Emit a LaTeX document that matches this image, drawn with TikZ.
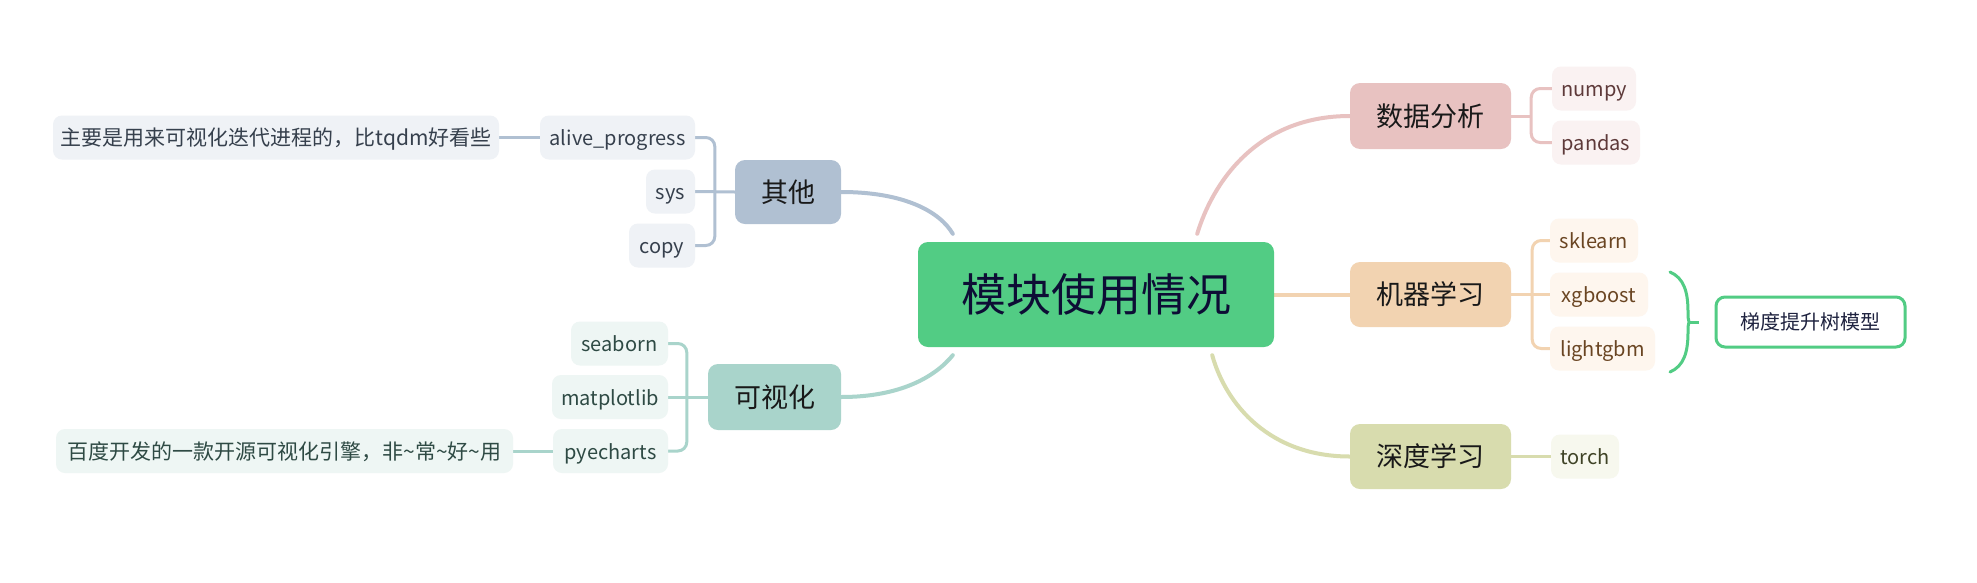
\documentclass[tikz,border=0pt]{standalone}
\usepackage{fontspec}
\setmainfont{Noto Sans CJK SC}
\usetikzlibrary{calc}
\pgfdeclarelayer{bg}
\pgfdeclarelayer{paper}
\pgfsetlayers{paper,bg,main}
\definecolor{rootc}{HTML}{52CC84}
\definecolor{roott}{HTML}{0D0D35}
\definecolor{ca}{HTML}{E8C2C1}\definecolor{cal}{HTML}{FAF2F2}\definecolor{cat}{HTML}{5E3A3A}
\definecolor{cb}{HTML}{F2D3B1}\definecolor{cbl}{HTML}{FEF6EE}\definecolor{cbt}{HTML}{6A4522}
\definecolor{cc}{HTML}{D8DCAE}\definecolor{ccl}{HTML}{F7F8EE}\definecolor{cct}{HTML}{3F4326}
\definecolor{cd}{HTML}{B0C0D2}\definecolor{cdl}{HTML}{EFF2F6}\definecolor{cdt}{HTML}{36404D}
\definecolor{ce}{HTML}{A9D4CB}\definecolor{cel}{HTML}{EEF6F4}\definecolor{cet}{HTML}{2E4A44}
\definecolor{sumt}{HTML}{1F2340}
\begin{document}
\begin{tikzpicture}[x=1pt,y=-1pt,
  rootbox/.style={fill=rootc, text=roott, rounded corners=10pt, inner sep=0pt,
    minimum width=356pt, minimum height=105pt, font=\fontsize{45}{50}\selectfont},
  branch/.style={fill=#1, text=black!90, rounded corners=10pt, inner sep=0pt,
    minimum height=65pt, font=\fontsize{27}{32}\selectfont},
  leaf/.style={rounded corners=9pt, inner sep=0pt, minimum height=44pt,
    text height=17pt, text depth=1pt, font=\fontsize{20}{24}\selectfont},
  mainline/.style={line width=4pt, draw=#1, line cap=round},
  subline/.style={line width=3pt, draw=#1, rounded corners=9pt},
]
\begin{pgfonlayer}{paper}
\fill[white] (0,0) rectangle (1977,582);
\end{pgfonlayer}
\useasboundingbox (0,0) rectangle (1977,582);

% root
\node[rootbox] (root) at (1096,294.5) {模块使用情况};

% branches
\node[branch=ca, minimum width=161pt, minimum height=66pt] (da) at (1430.5,116) {数据分析};
\node[branch=cb, minimum width=161pt] (ml) at (1430.5,294.5) {机器学习};
\node[branch=cc, minimum width=161pt] (dl) at (1430.5,456.5) {深度学习};
\node[branch=cd, minimum width=106pt, minimum height=64pt] (qt) at (788,192) {其他};
\node[branch=ce, minimum width=133pt, minimum height=66pt] (vis) at (774.5,397) {可视化};

% leaves: 数据分析
\node[leaf, fill=cal, text=cat, minimum width=84pt] (numpy) at (1594,88.5) {numpy};
\node[leaf, fill=cal, text=cat, minimum width=88pt] (pandas) at (1596,142.5) {pandas};
% 机器学习
\node[leaf, fill=cbl, text=cbt, minimum width=88pt] (sklearn) at (1594,240.5) {sklearn};
\node[leaf, fill=cbl, text=cbt, minimum width=98pt] (xgb) at (1599,294.5) {xgboost};
\node[leaf, fill=cbl, text=cbt, minimum width=105pt] (lgbm) at (1602.5,348.5) {lightgbm};
% 深度学习
\node[leaf, fill=ccl, text=cct, minimum width=68pt] (torch) at (1585,456.5) {torch};
% 其他
\node[leaf, fill=cdl, text=cdt, minimum width=155pt] (alive) at (617.5,137.5) {alive\_progress};
\node[leaf, fill=cdl, text=cdt, minimum width=49pt] (sys) at (670.5,191.5) {sys};
\node[leaf, fill=cdl, text=cdt, minimum width=66pt] (copy) at (662,245.5) {copy};
\node[leaf, fill=cdl, text=cdt, minimum width=446pt, font=\fontsize{21}{25}\selectfont] (note1) at (276,137.5) {主要是用来可视化迭代进程的，比tqdm好看些};
% 可视化
\node[leaf, fill=cel, text=cet, minimum width=97pt] (seaborn) at (619.5,343.5) {seaborn};
\node[leaf, fill=cel, text=cet, minimum width=116pt] (mpl) at (610,397) {matplotlib};
\node[leaf, fill=cel, text=cet, minimum width=115pt] (pye) at (610.5,451) {pyecharts};
\node[leaf, fill=cel, text=cet, minimum width=457pt, font=\fontsize{21}{25}\selectfont] (note2) at (284.5,451) {百度开发的一款开源可视化引擎，非\char"007E常\char"007E好\char"007E用};

% summary
\node[draw=rootc, line width=3pt, fill=white, text=sumt, rounded corners=9pt, inner sep=0pt,
  minimum width=189pt, minimum height=50pt, font=\fontsize{20}{24}\selectfont] (gbm) at (1810.5,322) {梯度提升树模型};
\coordinate (bt) at (1670,272);
\coordinate (bb) at (1670,372);
\coordinate (bm) at (1689,322);
\draw[rootc, line width=3pt, line cap=round]
  (bt) .. controls (1684,278) and (1688,292) .. (1688,312)
  .. controls (1688,318) .. (bm)
  .. controls (1688,326) .. (1688,332)
  .. controls (1688,352) and (1684,366) .. (bb);
\draw[rootc, line width=3pt] (bm) -- (1699,322);

\begin{pgfonlayer}{bg}
  % main connectors
  \draw[mainline=ca] ([xshift=-77pt,yshift=8pt]root.north east) .. controls (1212,185) and (1255,116) .. (da.west);
  \draw[mainline=cb] (root.east) -- (ml.west);
  \draw[mainline=cc] ([xshift=-62pt,yshift=-8pt]root.south east) .. controls (1226,405) and (1270,456.5) .. (dl.west);
  \draw[mainline=cd] ([xshift=35pt,yshift=8pt]root.north west) .. controls (940,212) and (905,192) .. (qt.east);
  \draw[mainline=ce] ([xshift=35pt,yshift=-8pt]root.south west) .. controls (935,377) and (900,397) .. (vis.east);
  % sub connectors
  \draw[subline=ca] (da.east) -- ([xshift=20pt]da.east);
  \draw[subline=ca] (numpy.west) -| ([xshift=20pt]da.east) |- (pandas.west);
  \draw[subline=cb] (ml.east) -- (xgb.west);
  \draw[subline=cb] (sklearn.west) -| ([xshift=21pt]ml.east) |- (lgbm.west);
  \draw[subline=cc] (dl.east) -- (torch.west);
  \draw[subline=cd] (qt.west) -- (sys.east);
  \draw[subline=cd] (alive.east) -| ([xshift=-20pt]qt.west) |- (copy.east);
  \draw[subline=cd] (note1.east) -- (alive.west);
  \draw[subline=ce] (vis.west) -- (mpl.east);
  \draw[subline=ce] (seaborn.east) -| ([xshift=-21pt]vis.west) |- (pye.east);
  \draw[subline=ce] (note2.east) -- (pye.west);
\end{pgfonlayer}
\end{tikzpicture}
\end{document}
